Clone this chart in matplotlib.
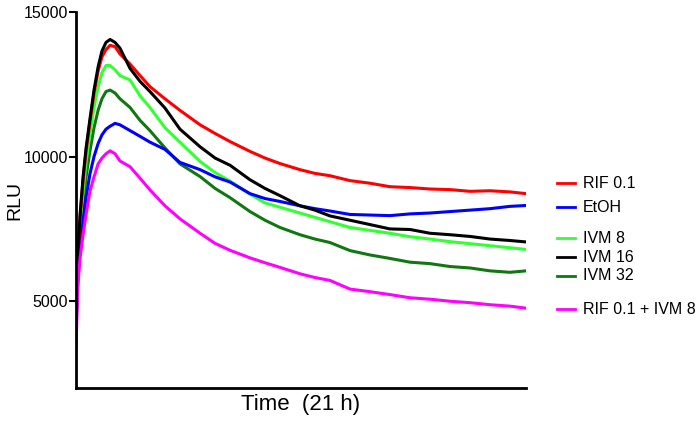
import matplotlib.pyplot as plt
from matplotlib.lines import Line2D

plt.rcParams['font.family'] = ['Liberation Sans', 'DejaVu Sans']

# time in hours (21 h run)
hours = [0, 0.09, 0.19, 0.33, 0.47, 0.65, 0.84, 1.03, 1.21, 1.40, 1.59, 1.82,
         2.05, 2.52, 2.99, 3.45, 4.15, 4.85, 5.79, 6.49, 7.19, 8.12, 8.82,
         9.52, 10.45, 11.15, 11.85, 12.79, 13.72, 14.65, 15.59, 16.52, 17.45,
         18.39, 19.32, 20.25, 21.0]

rif = [4100, 6500, 7900, 9200, 10200, 11200, 12200, 12950, 13450, 13700, 13850,
       13800, 13550, 13200, 12800, 12420, 12000, 11600, 11100, 10800, 10520,
       10180, 9950, 9760, 9550, 9420, 9340, 9170, 9080, 8960, 8930, 8880, 8860,
       8800, 8820, 8780, 8720]
etoh = [4250, 5800, 6800, 7800, 8600, 9400, 10000, 10450, 10750, 10950, 11050,
        11150, 11100, 10900, 10700, 10500, 10250, 9800, 9550, 9300, 9120, 8720,
        8550, 8450, 8300, 8200, 8120, 8000, 7980, 7960, 8020, 8050, 8100, 8150,
        8200, 8280, 8310]
ivm8 = [4100, 6300, 7600, 8800, 9800, 10800, 11700, 12400, 12900, 13150, 13150,
        13000, 12800, 12650, 12100, 11700, 11000, 10500, 9830, 9450, 9150, 8700,
        8400, 8250, 8050, 7900, 7750, 7550, 7450, 7350, 7230, 7150, 7060, 6990,
        6920, 6850, 6790]
ivm16 = [4200, 6600, 8000, 9300, 10300, 11300, 12300, 13100, 13650, 13950, 14050,
         13950, 13750, 13050, 12600, 12250, 11680, 10950, 10340, 9950, 9700, 9200,
         8900, 8650, 8300, 8150, 7950, 7800, 7650, 7500, 7480, 7350, 7300, 7240,
         7150, 7100, 7050]
ivm32 = [4000, 6000, 7300, 8400, 9300, 10200, 11000, 11600, 12000, 12250, 12300,
         12200, 12000, 11700, 11250, 10900, 10300, 9750, 9310, 8900, 8580, 8100,
         7800, 7550, 7300, 7150, 7030, 6750, 6600, 6480, 6350, 6300, 6200, 6150,
         6050, 6000, 6050]
rif_ivm8 = [3400, 5600, 6500, 7300, 8000, 8800, 9300, 9750, 9950, 10100, 10200,
            10100, 9850, 9650, 9250, 8850, 8300, 7850, 7350, 7000, 6760, 6500,
            6330, 6170, 5950, 5820, 5720, 5420, 5330, 5230, 5120, 5070, 5000, 4950,
            4880, 4830, 4760]

labels = ['RIF 0.1', 'EtOH', 'IVM 8', 'IVM 16', 'IVM 32', 'RIF 0.1 + IVM 8']
colors = ['#ff0000', '#0000ff', '#33ff33', '#000000', '#117711', '#ff00ff']
series = [rif, etoh, ivm8, ivm16, ivm32, rif_ivm8]
yticks = [5000, 10000, 15000]

fig = plt.figure(figsize=(7, 4.24), dpi=100)
ax = fig.add_axes([0.1086, 0.0849, 0.6428, 0.8868])

# draw order: back to front
for i in [4, 2, 1, 0, 3, 5]:
    ax.plot(hours, series[i], color=colors[i], lw=2.2)

ax.set_xlim(0, 21)
ax.set_ylim(2000, 15000)
ax.set_yticks(yticks)
ax.set_yticklabels([str(t) for t in yticks], fontsize=11.5)
ax.set_xticks([])
ax.spines['top'].set_visible(False)
ax.spines['right'].set_visible(False)
ax.spines['left'].set_linewidth(2)
ax.spines['bottom'].set_linewidth(2)
ax.tick_params(axis='y', length=5, width=1.5, pad=1)
ax.set_ylabel('RLU', fontsize=14, labelpad=0)
ax.set_xlabel('Time  (21 h)', fontsize=16, labelpad=4)

# legend drawn by hand to keep the grouped spacing
rows_y = [183, 207, 238, 257, 276, 309]
for lab, col, py in zip(labels, colors, rows_y):
    fy = 1 - py / 424
    fig.add_artist(Line2D([557 / 700, 575 / 700], [fy, fy], color=col, lw=2))
    fig.text(583 / 700, fy, lab, fontsize=11.5, va='center', ha='left')

fig.savefig('out.png', dpi=100)
